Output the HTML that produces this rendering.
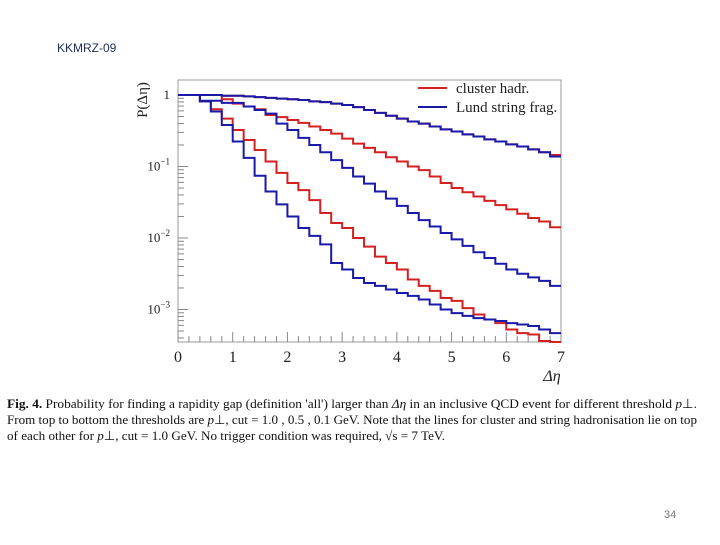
<!DOCTYPE html>
<html><head><meta charset="utf-8"><style>
body{margin:0;background:#fff;width:720px;height:540px;overflow:hidden;font-family:"Liberation Serif",serif}
</style></head><body>
<svg width="720" height="540" viewBox="0 0 720 540" xmlns="http://www.w3.org/2000/svg">
<text x="57" y="52" font-family="Liberation Sans,sans-serif" font-size="12" fill="#1f2d5a">KKMRZ-09</text>
<g id="chart"></g>
<g font-family="Liberation Serif,serif" font-size="13" fill="#111">
<text x="7" y="408" textLength="690" lengthAdjust="spacingAndGlyphs"><tspan font-weight="bold">Fig. 4.</tspan> Probability for finding a rapidity gap (definition 'all') larger than <tspan font-style="italic">Δη</tspan> in an inclusive QCD event for different threshold <tspan font-style="italic">p</tspan>⊥.</text>
<text x="7" y="424" textLength="690" lengthAdjust="spacingAndGlyphs">From top to bottom the thresholds are <tspan font-style="italic">p</tspan>⊥, cut = 1.0 , 0.5 , 0.1 GeV. Note that the lines for cluster and string hadronisation lie on top</text>
<text x="7" y="440" textLength="438" lengthAdjust="spacingAndGlyphs">of each other for <tspan font-style="italic">p</tspan>⊥, cut = 1.0 GeV. No trigger condition was required, √s = 7 TeV.</text>
</g>
<text x="664" y="518" font-family="Liberation Sans,sans-serif" font-size="11" fill="#777">34</text>
</svg>
<script>
const binEdges=[0,0.2,0.4,0.6,0.8,1.0,1.2,1.4,1.6,1.8,2.0,2.2,2.4,2.6,2.8,3.0,3.2,3.4,3.6,3.8,4.0,4.2,4.4,4.6,4.8,5.0,5.2,5.4,5.6,5.8,6.0,6.2,6.4,6.6,6.8];
const clusterCut10=[0,0,0,0,-0.01,-0.01,-0.02,-0.03,-0.04,-0.05,-0.06,-0.07,-0.09,-0.10,-0.12,-0.14,-0.17,-0.21,-0.25,-0.29,-0.33,-0.37,-0.40,-0.44,-0.48,-0.51,-0.55,-0.58,-0.62,-0.65,-0.69,-0.72,-0.76,-0.80,-0.84];
const stringCut10=[0,0,0,0,-0.01,-0.01,-0.02,-0.03,-0.04,-0.05,-0.06,-0.07,-0.09,-0.10,-0.12,-0.14,-0.17,-0.21,-0.25,-0.29,-0.33,-0.37,-0.40,-0.44,-0.48,-0.51,-0.55,-0.58,-0.62,-0.65,-0.69,-0.72,-0.76,-0.80,-0.86];
const clusterCut05=[0,0,0,0,-0.06,-0.12,-0.16,-0.20,-0.28,-0.31,-0.35,-0.39,-0.44,-0.49,-0.54,-0.61,-0.68,-0.74,-0.80,-0.87,-0.93,-1.0,-1.05,-1.14,-1.23,-1.30,-1.36,-1.42,-1.48,-1.54,-1.60,-1.66,-1.72,-1.77,-1.85];
const stringCut05=[0,0,-0.08,-0.08,-0.11,-0.11,-0.16,-0.21,-0.26,-0.40,-0.49,-0.60,-0.70,-0.80,-0.91,-1.02,-1.14,-1.24,-1.35,-1.45,-1.55,-1.65,-1.75,-1.84,-1.93,-2.02,-2.11,-2.20,-2.28,-2.36,-2.44,-2.50,-2.55,-2.60,-2.67];
const clusterCut01=[0,0,-0.09,-0.20,-0.33,-0.49,-0.63,-0.77,-0.93,-1.09,-1.23,-1.33,-1.47,-1.65,-1.79,-1.86,-2.0,-2.12,-2.26,-2.35,-2.44,-2.58,-2.67,-2.74,-2.84,-2.88,-2.98,-3.07,-3.14,-3.19,-3.28,-3.33,-3.35,-3.44,-3.49];
const stringCut01=[0,0,-0.09,-0.23,-0.42,-0.65,-0.88,-1.13,-1.35,-1.53,-1.70,-1.86,-1.97,-2.09,-2.35,-2.44,-2.56,-2.63,-2.67,-2.72,-2.77,-2.81,-2.86,-2.93,-3.0,-3.05,-3.09,-3.12,-3.14,-3.16,-3.19,-3.21,-3.23,-3.28,-3.33];
const xTickLabels=["0","1","2","3","4","5","6","7"];
const yDecades=[0,-1,-2,-3];
const yDecadeLabels=["1","10","10","10"];
const yDecadeExps=["","−1","−2","−3"];

const NS="http://www.w3.org/2000/svg";
const g=document.getElementById('chart');
const X0=178,X1=561,Y0=342,Y1=80;
const xs=v=>X0+(v/7)*(X1-X0);
const ys=l=>95-l*71.5; // l = log10(P)
function mk(t,a,p){const e=document.createElementNS(NS,t);for(const k in a)e.setAttribute(k,a[k]);(p||g).appendChild(e);return e;}
const frame=mk('rect',{x:X0,y:Y1,width:X1-X0,height:Y0-Y1,fill:'none',stroke:'#999','stroke-width':1});


// x ticks
for(let i=0;i<=35;i++){const v=i*0.2;const major=i%5===0;
 const t=mk('line',{x1:xs(v),x2:xs(v),y1:Y0,y2:Y0-(major?10:6),stroke:'#888','stroke-width':1});
 
 }
xTickLabels.forEach((s,i)=>{const t=mk('text',{x:xs(+s),y:362,'text-anchor':'middle','font-size':16,fill:'#222'});t.textContent=s;
 
 });
// y ticks
for(let d=0;d>=-3;d--){for(let m=1;m<10;m++){const l=d-1+Math.log10(m)+0;const lv=Math.log10(m)+d;if(ys(lv)>Y0||ys(lv)<Y1)continue;
 const t=mk('line',{x1:X0,x2:X0+(m===1?10:6),y1:ys(lv),y2:ys(lv),stroke:'#888','stroke-width':1});
 
 }}
for(let m=2;m<10;m++){const lv=Math.log10(m)-4;if(ys(lv)<=Y0){const t=mk('line',{x1:X0,x2:X0+6,y1:ys(lv),y2:ys(lv),stroke:'#888'});}}
yDecades.forEach((d,i)=>{const t=mk('text',{x:170,y:ys(d)+4,'text-anchor':'end','font-size':13,fill:'#222'});t.textContent=yDecadeLabels[i];
 if(yDecadeExps[i]){const s=mk('tspan',{dy:-6,'font-size':9},t);s.textContent=yDecadeExps[i];}
 
 });
const yt=mk('text',{x:0,y:0,transform:'translate(147,100) rotate(-90)','text-anchor':'middle','font-size':15,fill:'#222'});yt.textContent='P(Δη)';


const xt=mk('text',{x:552,y:381,'text-anchor':'middle','font-size':16,fill:'#222','font-style':'italic'});xt.textContent='Δη';


function step(arr,color,name){let d='';arr.forEach((l,i)=>{const x0=xs(binEdges[i]),x1=xs(binEdges[i]+0.2),y=Math.min(ys(l),Y0);d+=(i===0?'M':'L')+x0+','+y+'L'+x1+','+y;});
 const p=mk('path',{d:d,fill:'none',stroke:color,'stroke-width':2});
 
 }
const RED='#d42020',BLUE='#1a1aa8';
step(clusterCut01,RED,'cluster-cut-0.1-line');
step(clusterCut05,RED,'cluster-cut-0.5-line');
step(clusterCut10,RED,'cluster-cut-1.0-line');
step(stringCut01,BLUE,'string-cut-0.1-line');
step(stringCut05,BLUE,'string-cut-0.5-line');
step(stringCut10,BLUE,'string-cut-1.0-line');
// legend
[['cluster hadr.',RED,88],['Lund string frag.',BLUE,107]].forEach(([s,c,y])=>{
 const l=mk('line',{x1:418,x2:447,y1:y,y2:y,stroke:c,'stroke-width':2});
 
 
 const t=mk('text',{x:456,y:y+5,'font-size':15,fill:'#222'});t.textContent=s;
 
 });
</script>
</body></html>
